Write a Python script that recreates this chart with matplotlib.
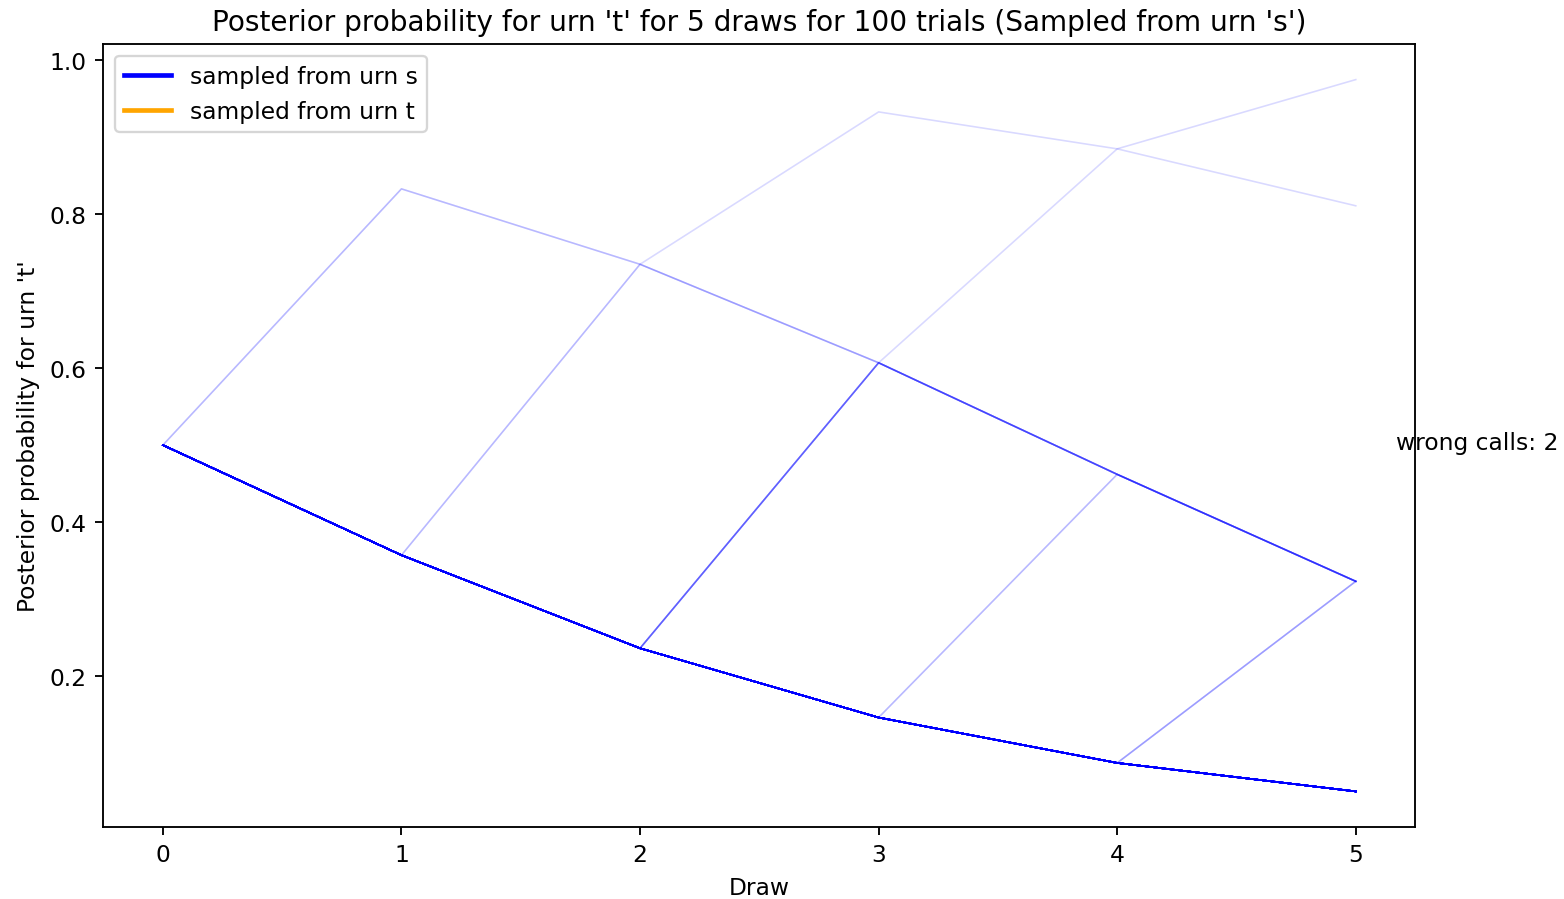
import matplotlib
matplotlib.use("Agg")
import matplotlib.pyplot as plt
from matplotlib.lines import Line2D

draws = [0, 1, 2, 3, 4, 5]

# posterior for urn 't' along each distinct path, and how many of the 100 trials took it
path_bbbbb = [0.5, 0.357, 0.236, 0.146, 0.087, 0.050]
path_bbbba = [0.5, 0.357, 0.236, 0.146, 0.087, 0.323]
path_bbbab = [0.5, 0.357, 0.236, 0.146, 0.462, 0.323]
path_bbabb = [0.5, 0.357, 0.236, 0.607, 0.462, 0.323]
path_babbb = [0.5, 0.357, 0.735, 0.607, 0.462, 0.323]
path_abbbb = [0.5, 0.833, 0.735, 0.607, 0.462, 0.323]
path_ababb = [0.5, 0.833, 0.735, 0.933, 0.885, 0.811]
path_bbaaa = [0.5, 0.357, 0.236, 0.607, 0.885, 0.975]

paths = [path_bbbbb, path_bbbba, path_bbbab, path_bbabb,
         path_babbb, path_abbbb, path_ababb, path_bbaaa]
counts = [85, 3, 2, 5, 2, 1, 1, 1]
wrong_calls = 2

dpi = 168
fig, ax = plt.subplots(figsize=(1564 / dpi, 900 / dpi), dpi=dpi)
for path, n in zip(paths, counts):
    for _ in range(n):
        ax.plot(draws, path, color='blue', alpha=0.15, lw=0.7)

ax.set_title("Posterior probability for urn 't' for 5 draws for 100 trials (Sampled from urn 's')")
ax.set_xlabel("Draw")
ax.set_ylabel("Posterior probability for urn 't'")
ax.text(5.17, 0.495, f"wrong calls: {wrong_calls}")

handles = [Line2D([0], [0], color='blue', lw=2),
           Line2D([0], [0], color='orange', lw=2)]
ax.legend(handles, ["sampled from urn s", "sampled from urn t"], loc='upper left')

fig.subplots_adjust(left=0.066, right=0.905, top=0.95, bottom=0.08)
fig.savefig("out.png", dpi=dpi)
